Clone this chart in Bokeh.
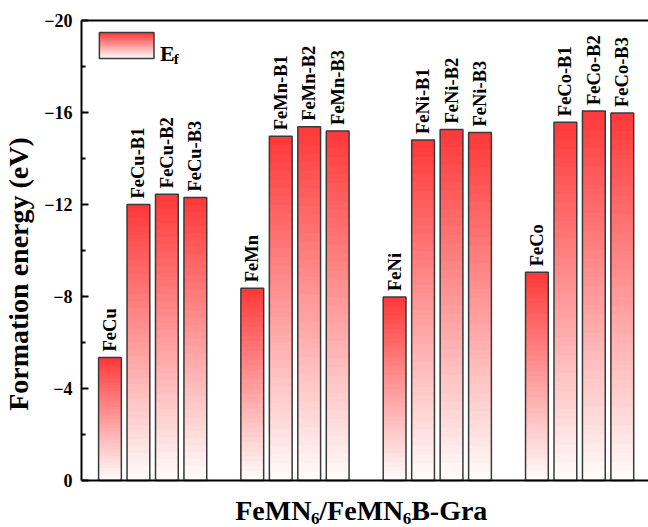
import numpy as np
from bokeh.plotting import figure
from bokeh.models import Range1d, FixedTicker, LinearAxis, Label, Span
from bokeh.core.properties import value
from bokeh.embed import file_html
from bokeh.resources import INLINE

# ---------------- data ----------------
groups = ["FeCu", "FeMn", "FeNi", "FeCo"]
variants = ["", "-B1", "-B2", "-B3"]
fecu_energy = [-5.35, -12.00, -12.45, -12.30]
femn_energy = [-8.36, -14.97, -15.38, -15.20]
feni_energy = [-7.98, -14.80, -15.26, -15.13]
feco_energy = [-9.05, -15.58, -16.06, -15.98]
y_ticks = [0, -4, -8, -12, -16, -20]
y_minor_ticks = [-2, -6, -10, -14, -18]

series = [fecu_energy, femn_energy, feni_energy, feco_energy]
names, xpos, energies = [], [], []
for gi, (g, vals) in enumerate(zip(groups, series)):
    for vi, (v, e) in enumerate(zip(variants, vals)):
        names.append(g + v)
        xpos.append(gi * (len(variants) + 1) + vi)
        energies.append(e)

# ---------------- layout ----------------
W, H = 648, 527
X0, X1 = -1, 18.92
FRAME_L, FRAME_R, FRAME_T, ZERO_Y = 77, 648, 20, 480  # canvas px
PXX = (FRAME_R - FRAME_L) / (X1 - X0)
PXY = (ZERO_Y - FRAME_T) / 20.0
Y_START = (H - ZERO_Y) / PXY  # frame extends below zero to hold the x title


def px2x(px):
    return (px - FRAME_L) / PXX + X0


def px2y(py):
    return -(ZERO_Y - py) / PXY


SERIF = "Liberation Serif"
TOP_C = np.array([255, 56, 56])
BOT_C = np.array([255, 252, 252])
N = 40


def grad_color(t):
    c = BOT_C + (TOP_C - BOT_C) * t
    return "#%02x%02x%02x" % tuple(int(round(v)) for v in c)


p = figure(width=W, height=H, x_range=Range1d(X0, X1), y_range=Range1d(Y_START, -20),
           output_backend="svg", toolbar_location=None, x_axis_location=None,
           min_border_left=FRAME_L, min_border_right=0, min_border_top=FRAME_T,
           min_border_bottom=0)
p.grid.visible = False
p.outline_line_color = None
p.background_fill_color = "white"
p.border_fill_color = "white"

# y axis
ya = p.yaxis[0]
ya.bounds = (-20, 0)
ya.ticker = FixedTicker(ticks=y_ticks, minor_ticks=y_minor_ticks)
ya.axis_label = "Formation energy (eV)"
ya.axis_label_text_font = SERIF
ya.axis_label_text_font_style = "bold"
ya.axis_label_text_font_size = "28px"
ya.axis_label_text_color = "black"
ya.axis_label_standoff = 7
ya.major_label_text_font = SERIF
ya.major_label_text_font_style = "bold"
ya.major_label_text_font_size = "18px"
ya.major_label_text_color = "black"
ya.major_label_standoff = 9
ya.major_tick_in = 7
ya.major_tick_out = 0
ya.minor_tick_in = 4
ya.minor_tick_out = 0
ya.axis_line_width = 2
ya.major_tick_line_width = 2
ya.minor_tick_line_width = 2

# top border
top_axis = LinearAxis(ticker=FixedTicker(ticks=[]), major_label_text_font_size="0px",
                      major_tick_in=0, major_tick_out=0, minor_tick_in=0, minor_tick_out=0,
                      axis_line_width=2, major_label_standoff=0)
p.add_layout(top_axis, "above")

# bottom axis line at zero
p.add_layout(Span(location=0, dimension="width", line_color="black", line_width=2))

# gradient bars (stacked, largest first)
gx, gtop, gcol = [], [], []
for k in range(N, 0, -1):
    col = grad_color((k - 0.5) / N)
    for x, e in zip(xpos, energies):
        gx.append(x)
        gtop.append(e * k / N)
        gcol.append(col)
p.vbar(x=gx, top=gtop, bottom=0, width=0.8, fill_color=gcol, line_color=None)
p.vbar(x=xpos, top=energies, bottom=0, width=0.8, fill_color=None,
       line_color="#3a3a3a", line_width=1.5)

# bar labels
p.text(x=xpos, y=energies, text=names, angle=np.pi / 2, text_align="left",
       text_baseline="middle", y_offset=-6, text_font=value(SERIF),
       text_font_style="bold", text_font_size="18.5px", text_color="black")

# legend
lx0, lx1, ly_top, ly_bot = px2x(95), px2x(150), px2y(32), px2y(58)
lq_l, lq_r, lq_b, lq_t, lq_c = [], [], [], [], []
for k in range(N, 0, -1):
    lq_l.append(lx0)
    lq_r.append(lx1)
    lq_b.append(ly_bot)
    lq_t.append(ly_bot + (ly_top - ly_bot) * k / N)
    lq_c.append(grad_color((k - 0.5) / N))
p.quad(left=lq_l, right=lq_r, bottom=lq_b, top=lq_t, fill_color=lq_c, line_color=None)
p.quad(left=[lx0], right=[lx1], bottom=[ly_bot], top=[ly_top], fill_color=None,
       line_color="#3a3a3a", line_width=1.5)
p.add_layout(Label(x=px2x(156), y=px2y(53), text="E", text_font=SERIF,
                   text_font_style="bold", text_font_size="22px", text_baseline="alphabetic",
                   text_color="black"))
p.add_layout(Label(x=px2x(170), y=px2y(58), text="f", text_font=SERIF,
                   text_font_style="bold", text_font_size="15px", text_baseline="alphabetic",
                   text_color="black"))

# x title with subscripts
main_fs, sub_fs = 28, 17
w = {"F": .611, "e": .444, "M": .944, "N": .722, "/": .278, "B": .667, "-": .333,
     "G": .778, "r": .444, "a": .5, "6": .5}
pieces = [("FeMN", main_fs, 0), ("6", sub_fs, 8), ("/FeMN", main_fs, 0), ("6", sub_fs, 8),
          ("B-Gra", main_fs, 0)]
total = sum(sum(w[c] for c in s) * fs for s, fs, _ in pieces)
cur = (FRAME_L + FRAME_R) / 2 - total / 2 - 4
baseline = 510
for s, fs, dy in pieces:
    p.add_layout(Label(x=px2x(cur), y=px2y(baseline + dy), text=s, text_font=SERIF,
                       text_font_style="bold", text_font_size="%dpx" % fs,
                       text_baseline="alphabetic", text_color="black"))
    cur += sum(w[c] for c in s) * fs

open("out.html", "w").write(file_html(p, INLINE))
